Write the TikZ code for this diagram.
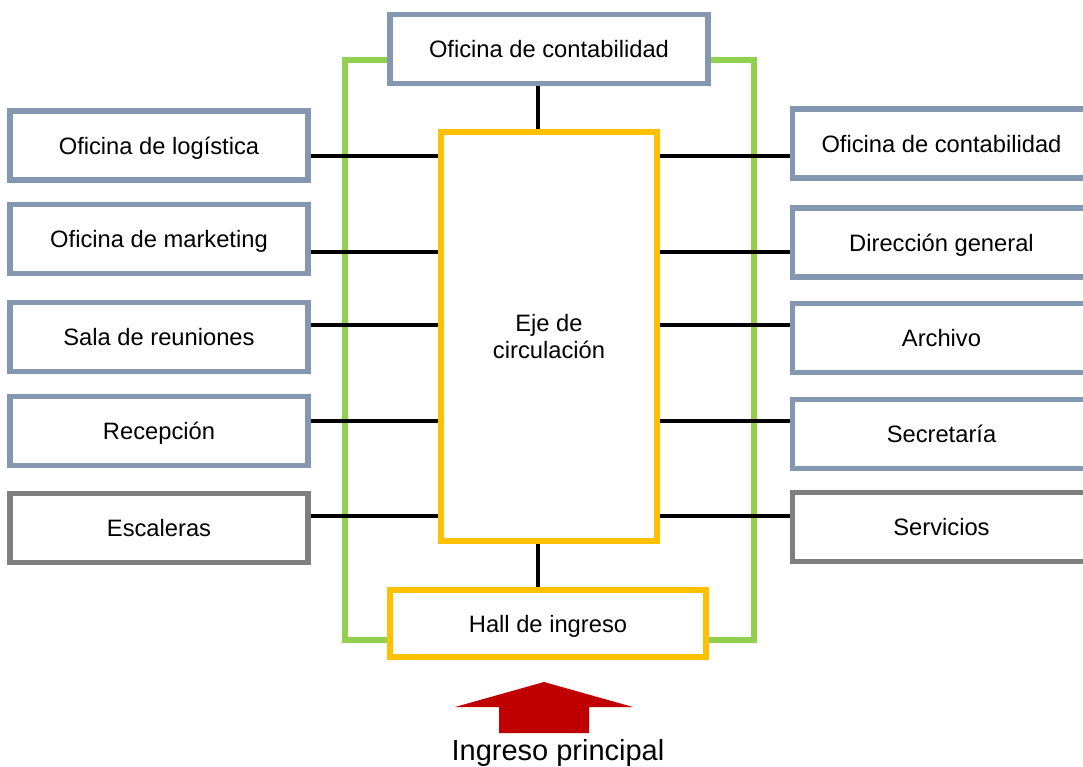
\documentclass[tikz,border=0pt]{standalone}
\usepackage{fontspec}
\setmainfont{Liberation Sans}
\usetikzlibrary{positioning,calc,backgrounds}
\definecolor{roomblue}{RGB}{132,151,176}
\definecolor{roomgrey}{RGB}{127,127,127}
\definecolor{axisyellow}{RGB}{255,192,0}
\definecolor{corridorgreen}{RGB}{146,208,80}
\definecolor{entryred}{RGB}{192,0,0}
\tikzset{
  room/.style={draw=roomblue,fill=white,line width=3pt,minimum width=5.96cm,
               minimum height=1.38cm,inner sep=0pt,text height=9.7pt,text depth=0pt,
               font=\fontsize{13.5}{16}\selectfont},
  service/.style={room,draw=roomgrey},
  axisbox/.style={room,draw=axisyellow,line width=3.3pt},
  link/.style={draw=black,line width=2.4pt},
  corridor/.style={draw=corridorgreen,line width=3pt},
}

\begin{document}
\begin{tikzpicture}[x=0.02cm,y=-0.02cm]
  \clip (0,0) rectangle (1083,767);
  % central axis, top office and entrance hall
  \node[room,minimum width=6.36cm,minimum height=1.39cm] (conttop) at (549,49) {Oficina de contabilidad};
  \node[axisbox,minimum width=4.32cm,minimum height=8.18cm,align=center,text height=,text depth=,
        font=\fontsize{13.5}{15.5}\selectfont] (eje) at (549,336.5) {Eje de\\circulación};
  \node[axisbox,minimum width=6.32cm,minimum height=1.34cm] (hall) at (548,623.5) {Hall de ingreso};
  % left wing
  \node[room] (logis) at (159,145.5) {Oficina de logística};
  \node[room] (market) at (159,239) {Oficina de marketing};
  \node[room] (sala) at (159,337) {Sala de reuniones};
  \node[room] (recep) at (159,431) {Recepción};
  \node[service] (escal) at (159,528) {Escaleras};
  % right wing
  \node[room] (contder) at (941.5,143.5) {Oficina de contabilidad};
  \node[room] (direc) at (941.5,242.5) {Dirección general};
  \node[room] (archivo) at (941.5,338) {Archivo};
  \node[room] (secre) at (941.5,434) {Secretaría};
  \node[service] (servi) at (941.5,527) {Servicios};
  \begin{scope}[on background layer]
    % green corridor ring
    \draw[corridor] (345,60) rectangle (754,640);
    % connectors to the axis
    \foreach \l/\r/\y in {logis/contder/156,market/direc/252,sala/archivo/325,
                          recep/secre/421,escal/servi/516}{
      \draw[link] (\l.east |- 0,\y) -- (eje.west |- 0,\y);
      \draw[link] (eje.east |- 0,\y) -- (\r.west |- 0,\y);
    }
    \draw[link] (conttop.south -| 538,0) -- (eje.north -| 538,0);
    \draw[link] (eje.south -| 538,0) -- (hall.north -| 538,0);
  \end{scope}
  % main entrance
  \fill[entryred] (544,682) -- (633,707) -- (589,707) -- (589,733) -- (499,733)
    -- (499,707) -- (455,707) -- cycle;
  \node[font=\fontsize{16.5}{20}\selectfont] (ingreso) at (558,753) {Ingreso principal};
\end{tikzpicture}
\end{document}
